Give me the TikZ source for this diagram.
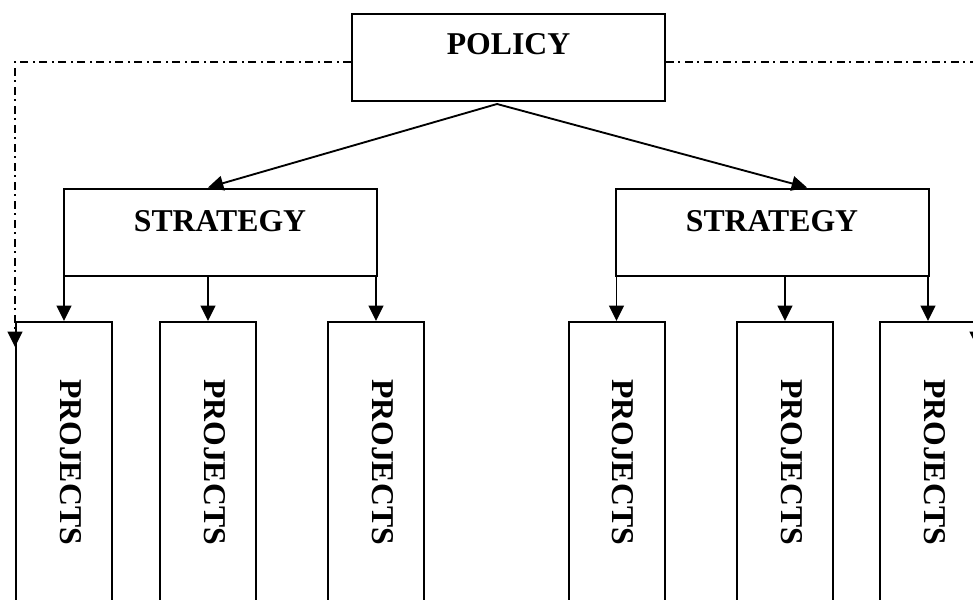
\documentclass[tikz,border=0pt]{standalone}
\usepackage{fontspec}
\setmainfont{Liberation Serif}
\usetikzlibrary{arrows.meta}

\begin{document}
\begin{tikzpicture}[x=0.75pt, y=-0.75pt,
  every node/.style={font=\fontsize{23.8pt}{28pt}\selectfont\bfseries, inner sep=0pt},
  box/.style={draw, line width=1.5pt, rectangle},
  topbox/.style={box, minimum width=234.75pt, minimum height=65.25pt,
    text height=16pt, text depth=18pt},
  projbox/.style={box, minimum width=72pt, minimum height=210pt},
  arr/.style={line width=1.4pt, -{Triangle[length=11.5pt,width=11pt]}},
  dashdot line/.style={arr, dash pattern=on 6pt off 3pt on 1.5pt off 3.75pt}]

\useasboundingbox (0,0) rectangle (973,599);
\fill[white] (0,0) rectangle (973,599);
\clip (0,0) rectangle (973,599);

% policy level
\node[topbox, text depth=19.75pt] (policy) at (508.5,57.5) {POLICY};

% strategy level
\node[topbox, text depth=17pt] (s1) at (220,232) {STRATEGY};
\node[topbox, text depth=17pt] (s2) at (772,232) {STRATEGY};

% project columns
\newcommand{\projtext}{\hspace*{9.75pt}\rotatebox{-90}{PROJECTS}}
\node[projbox] (p1) at (64,462)    {\projtext};
\node[projbox] (p2) at (208,462)   {\projtext};
\node[projbox] (p3) at (376,462)   {\projtext};
\node[projbox] (p4) at (616.5,462) {\projtext};
\node[projbox] (p5) at (785,462)   {\projtext};
\node[projbox] (p6) at (928,462)   {\projtext};

% policy to strategies
\coordinate (fork) at ([xshift=-8.6pt,yshift=-1.5pt]policy.south);
\draw[arr] (fork) -- ([xshift=-9pt]s1.north);
\draw[arr] (fork) -- ([xshift=26.25pt]s2.north);

% strategies to projects
\foreach \s/\p in {s1/p1, s1/p2, s1/p3, s2/p4, s2/p5, s2/p6}
  \draw[arr] (\s.south -| \p.north) -- (\p.north);

% direct policy links to the outer projects
\coordinate (ltip) at ([yshift=-19.5pt]p1.north west);
\coordinate (rtip) at ([yshift=-19.5pt]p6.north east);
\draw[dashdot line] ([yshift=-3.4pt]policy.west) -| (ltip);
\draw[dashdot line] ([yshift=-3.4pt]policy.east) -| (rtip);

\end{tikzpicture}
\end{document}
